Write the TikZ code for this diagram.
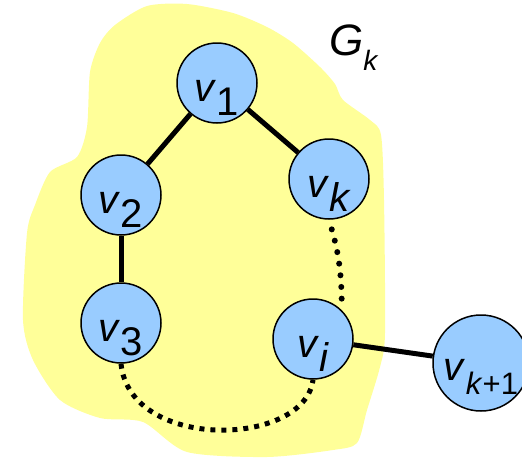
\documentclass[tikz,border=0pt]{standalone}
\usepackage{fontspec}
\setmainfont{Liberation Sans}
\definecolor{blobyellow}{HTML}{FFFF99}
\definecolor{nodeblue}{HTML}{99CCFF}
\newcommand{\vlab}[1]{\textit{v}\raisebox{-0.35em}{#1}}

\begin{document}
\begin{tikzpicture}[x=1pt, y=-1pt,
    vert/.style={draw, circle, line width=1.5pt, fill=nodeblue, minimum size=80pt, inner sep=0pt,
                 font=\fontsize{40}{40}\selectfont, text height=36pt, text depth=0pt},
    edge/.style={line width=5pt},
    rounddots/.style={line width=6pt, line cap=round, dash pattern=on 0pt off 11.7pt},
    squaredots/.style={line width=5pt, dash pattern=on 5pt off 6pt}]

    \useasboundingbox (0,0) rectangle (522,458);

    % yellow region of G_k
    \fill[blobyellow] plot[smooth cycle, tension=0.45] coordinates {
        (115,25) (147,6) (187,4) (233,13) (267,27) (293,43) (320,67) (335,84)
        (343,100) (370,120) (381,135) (384,200) (385,333) (380,367) (367,410)
        (357,443) (333,450) (267,457) (187,452) (143,422) (100,418) (60,400)
        (33,360) (23,320) (27,233) (35,205) (50,172) (77,157) (87,127) (90,72) (100,43)};

    % label of the region
    \node[anchor=base west, inner sep=0pt, font=\fontsize{44}{44}\selectfont] (gk) at (329,55)
        {\textit{G}\raisebox{-0.35em}{\fontsize{28}{28}\selectfont\textit{k}}};

    % vertices
    \node[vert] (v1) at (217,83) {\vlab{1}};
    \node[vert] (v2) at (121,195) {\vlab{2}};
    \node[vert] (vk) at (329,179) {\vlab{\textit{k}}};
    \node[vert] (v3) at (121,323) {\vlab{3}};
    \node[vert] (vi) at (313,339) {\vlab{\textit{i}}};
    \node[vert, minimum size=96pt, text height=34pt] (vk1) at (481,363)
        {\vlab{\fontsize{31}{31}\selectfont\textit{k}+1}};

    % edges
    \draw[edge] (v1) -- (v2);
    \draw[edge] (v1) -- (vk);
    \draw[edge] (v2) -- (v3);
    \draw[edge] (vi) -- (vk1);

    % paths of unknown length
    \draw[rounddots, shorten <=10pt] (vk.south) to[bend left=8] (vi.45);
    \draw[squaredots] (v3.south) .. controls (130,452) and (305,447) .. (vi.south);

\end{tikzpicture}
\end{document}
